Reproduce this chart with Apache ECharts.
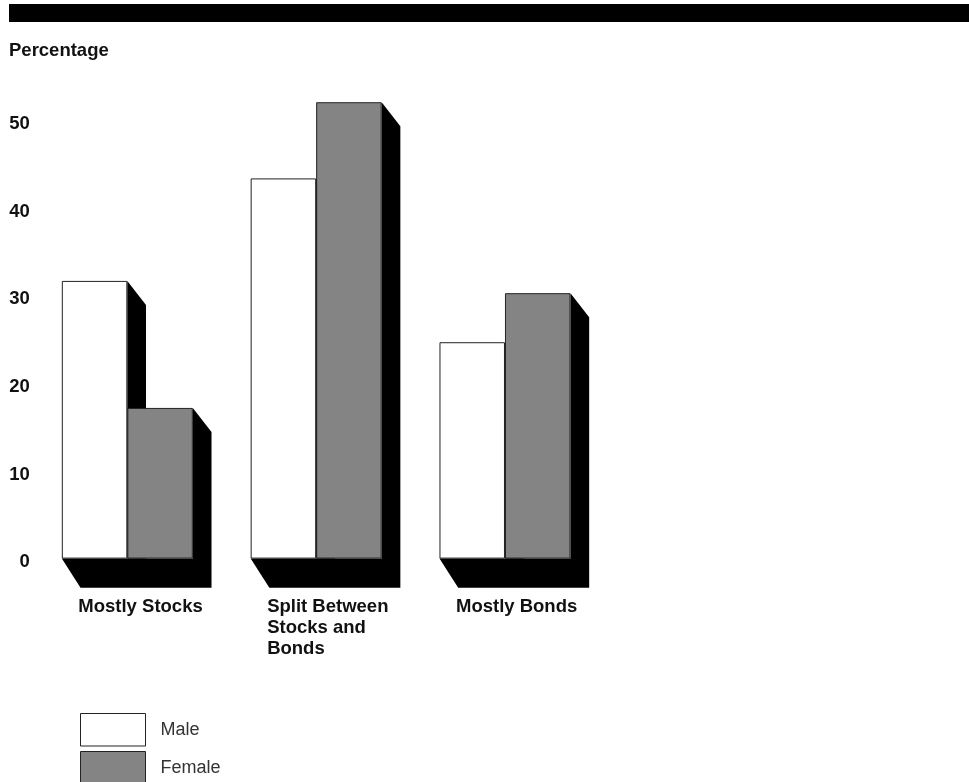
<!DOCTYPE html>
<html>
<head>
<meta charset="utf-8">
<style>html,body{margin:0;padding:0;background:#fff}#chart{width:969px;height:782px}</style>
<script src="https://cdn.jsdelivr.net/npm/echarts@6/dist/echarts.min.js"></script>
</head>
<body>
<div id="chart"></div>
<script>
// Portfolio allocation by sex, in percent
const categories = ['Mostly Stocks', 'Split Between\nStocks and\nBonds', 'Mostly Bonds'];
const male = [31.7, 43.4, 24.7];
const female = [17.2, 52.1, 30.3];
const seriesNames = ['Male', 'Female'];
const axisName = 'Percentage';

const BAR_W = 65.5;
const DEPTH_X = 18.7, DEPTH_TOP = 24, DEPTH_BASE = 29.2;
const ink = '#222';
const labelFont = { fontFamily: '"Liberation Sans", Arial, sans-serif', fontWeight: 'bold', fontSize: 18.5, color: '#111' };

// Black extruded block behind each pair of bars
function renderDepth(params, api) {
  const idx = api.value(0);
  const base = api.coord([idx, 0]);
  const topM = api.coord([idx, api.value(1)])[1];
  const topF = api.coord([idx, api.value(2)])[1];
  const cx = base[0], y0 = base[1];
  const l = cx - BAR_W, r = cx + BAR_W;
  const pts = [
    [l, y0],
    [l + DEPTH_X, y0 + DEPTH_BASE],
    [r + DEPTH_X, y0 + DEPTH_BASE],
    [r + DEPTH_X, topF + DEPTH_TOP],
    [r, topF],
    [r, y0]
  ];
  const ptsMale = [
    [cx, topM],
    [cx + DEPTH_X, topM + DEPTH_TOP],
    [cx + DEPTH_X, y0],
    [cx, y0]
  ];
  return {
    type: 'group',
    children: [
      { type: 'polygon', shape: { points: pts }, style: { fill: '#000' } },
      { type: 'polygon', shape: { points: ptsMale }, style: { fill: '#000' } }
    ]
  };
}

const chart = echarts.init(document.getElementById('chart'), null, { renderer: 'canvas' });
chart.setOption({
  animation: false,
  backgroundColor: '#fff',
  graphic: [{ type: 'rect', shape: { x: 9, y: 4, width: 960, height: 18 }, style: { fill: '#000' } }],
  legend: {
    left: 80, top: 713, width: 300, height: 120, padding: 0, orient: 'vertical',
    itemWidth: 65, itemHeight: 32.5, itemGap: 4.5,
    data: seriesNames, selectedMode: false, icon: 'rect',
    itemStyle: { borderWidth: 1, borderColor: ink },
    textStyle: { fontFamily: '"Liberation Sans", Arial, sans-serif', fontSize: 18, fontWeight: 'normal', color: '#333', padding: [3, 0, 0, 10] }
  },
  grid: { left: 32.9, top: 33, width: 566.5, height: 525.6 },
  xAxis: {
    type: 'category', data: categories,
    axisLine: { show: false }, axisTick: { show: false },
    axisLabel: {
      ...labelFont, interval: 0, margin: 37.5, align: 'left', verticalAlign: 'top',
      lineHeight: 21.3, padding: [0, 0, 0, -49]
    }
  },
  yAxis: {
    type: 'value', min: 0, max: 60, interval: 10,
    name: axisName, nameLocation: 'end', nameGap: -27,
    nameTextStyle: { ...labelFont, align: 'left', padding: [0, 0, 0, -23.9] },
    splitLine: { show: false }, axisLine: { show: false }, axisTick: { show: false },
    axisLabel: { ...labelFont, margin: 3, showMaxLabel: false, verticalAlign: 'top', padding: [-6, 0, 0, 0] }
  },
  series: [
    { type: 'custom', name: 'depth', renderItem: renderDepth, z: 1, silent: true,
      encode: { x: 0, y: 1 },
      data: categories.map((c, i) => [i, male[i], female[i]]) },
    { type: 'bar', name: seriesNames[0], data: male, barWidth: BAR_W, barGap: 0, z: 2,
      itemStyle: { color: '#fff', borderColor: ink, borderWidth: 1 } },
    { type: 'bar', name: seriesNames[1], data: female, barWidth: BAR_W, barGap: 0, z: 2,
      itemStyle: { color: '#848484', borderColor: ink, borderWidth: 1 } }
  ]
});
</script>
</body>
</html>
